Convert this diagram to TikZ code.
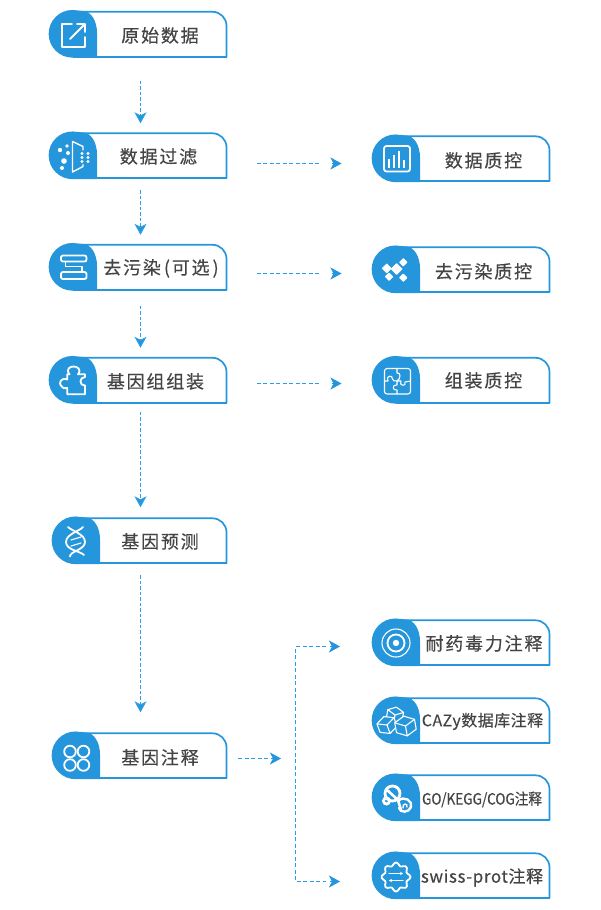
\documentclass[tikz,border=0pt]{standalone}
\usepackage{fontspec}
\setmainfont{Noto Sans CJK SC}
\newfontfamily\cardfont[LetterSpace=10,FakeBold=0.4]{Noto Sans CJK SC}
\newfontfamily\cazyfont[LetterSpace=3,FakeBold=0.4]{Noto Sans CJK SC}
\newfontfamily\gofont[FakeStretch=0.875,FakeBold=0.4]{Noto Sans CJK SC}
\newfontfamily\swissfont[LetterSpace=3.5,FakeBold=0.4]{Noto Sans CJK SC}
\usetikzlibrary{arrows.meta,calc}

\definecolor{cardblue}{HTML}{2596DC}
\definecolor{cardink}{HTML}{444444}
\definecolor{flowblue}{HTML}{2A9FE8}

\tikzset{
  card/.style={anchor=north west,minimum width=177pt,minimum height=45pt,inner sep=0pt,outer sep=0pt},
  cardwide/.style={card,minimum width=174pt},
  cardtext/.style={text=cardink,inner sep=0pt,yshift=-0.4pt,font=\cardfont\fontsize{18}{20}\selectfont},
  cardline/.style={draw=cardblue,line width=1.7pt},
  flowdown/.style={draw=flowblue,line width=1pt,dash pattern=on 3.5pt off 2pt,-{Stealth[length=11pt,width=12pt,inset=3pt,fill=cardblue]}},
  flowside/.style={draw=flowblue,line width=1pt,dash pattern=on 4pt off 2.5pt},
  flowtip/.style={draw=cardblue,line width=0.8pt,-{Stealth[length=11pt,width=12pt,inset=3pt]}},
  iconline/.style={draw=white,line width=1.8pt,line join=round,line cap=round},
  iconthin/.style={draw=white,line width=1.1pt,line join=round,line cap=round},
  iconfill/.style={fill=white},
}

% blue head and outline of one card
\newcommand{\cardframe}[1]{
  \draw[cardline] (#1.south east) -- ([yshift=-14pt]#1.north east) arc[start angle=0,end angle=90,radius=14pt] -- ([xshift=23pt]#1.north west);
  \draw[cardline] (#1.south east) -- ([xshift=23pt]#1.south west);
  \fill[cardblue] ([xshift=23pt,yshift=-0.85pt]#1.south west) arc[start angle=270,end angle=90,radius=23.85pt]
    -- ([xshift=33pt,yshift=0.85pt]#1.north west)
    .. controls ([xshift=42pt,yshift=0.85pt]#1.north west) and ([xshift=47.5pt,yshift=-10pt]#1.north west) .. ([xshift=47.5pt,yshift=-21pt]#1.north west)
    -- ([xshift=47.5pt,yshift=-0.85pt]#1.south west) -- cycle;
}

\begin{document}
\begin{tikzpicture}[x=1pt,y=-1pt]
  \useasboundingbox (0,0) rectangle (600,910);

  % left column
  \node[card] (raw) at (49.5,11.8) {};
  \cardframe{raw}
  \node[cardtext] (rawlabel) at (160,35) {原始数据};

  \node[card] (filter) at (49.5,133.3) {};
  \cardframe{filter}
  \node[cardtext] (filterlabel) at (158.5,156) {数据过滤};

  \node[card] (decon) at (49.5,244.8) {};
  \cardframe{decon}
  \node[cardtext] (deconlabel) at (161,268) {去污染\hspace{3pt}(可选\hspace{3pt})};

  \node[card] (genome) at (49.5,357.8) {};
  \cardframe{genome}
  \node[cardtext] (genomelabel) at (155.5,381) {基因组组装};

  \node[cardwide] (predict) at (52.5,518.3) {};
  \cardframe{predict}
  \node[cardtext] (predictlabel) at (160,541) {基因预测};

  \node[cardwide] (annot) at (52.5,733.3) {};
  \cardframe{annot}
  \node[cardtext] (annotlabel) at (160,757) {基因注释};

  % right column
  \node[card] (qcdata) at (372.5,136.3) {};
  \cardframe{qcdata}
  \node[cardtext] (qcdatalabel) at (483.5,160) {数据质控};

  \node[card] (qcdecon) at (372.5,247.3) {};
  \cardframe{qcdecon}
  \node[cardtext] (qcdeconlabel) at (483.5,271) {去污染质控};

  \node[card] (qcgenome) at (372.5,357.8) {};
  \cardframe{qcgenome}
  \node[cardtext] (qcgenomelabel) at (483.5,380) {组装质控};

  \node[card] (resist) at (372.5,620.3) {};
  \cardframe{resist}
  \node[cardtext] (resistlabel) at (484,643) {耐药毒力注释};

  \node[card] (cazy) at (372.5,698.3) {};
  \cardframe{cazy}
  \node[cardtext,font=\cazyfont\fontsize{16}{18}\selectfont] (cazylabel) at (482.5,721) {CAZy数据库注释};

  \node[card] (go) at (372.5,775.3) {};
  \cardframe{go}
  \node[cardtext,font=\gofont\fontsize{15.5}{17}\selectfont] (golabel) at (482,799) {GO/KEGG/COG注释};

  \node[card] (swiss) at (372.5,853.3) {};
  \cardframe{swiss}
  \node[cardtext,font=\swissfont\fontsize{17}{19}\selectfont] (swisslabel) at (482,877) {swiss-prot注释};

  % downward connectors
  \draw[flowdown,shorten <=24pt,shorten >=10pt] ([xshift=2.5pt]raw.south) -- ([xshift=2.5pt]filter.north);
  \draw[flowdown,shorten <=12pt,shorten >=10pt] ([xshift=2.5pt]filter.south) -- ([xshift=2.5pt]decon.north);
  \draw[flowdown,shorten <=16pt,shorten >=10pt] ([xshift=2.5pt]decon.south) -- ([xshift=2.5pt]genome.north);
  \draw[flowdown,shorten <=9pt,shorten >=11pt] ([xshift=2.5pt]genome.south) -- ([xshift=1pt]predict.north);
  \draw[flowdown,shorten <=12pt,shorten >=21pt] ([xshift=1pt]predict.south) -- ([xshift=1pt]annot.north);

  % sideways connectors
  \draw[flowside,shorten <=30pt,shorten >=52pt] ([yshift=-7.7pt]filter.east) -- ([yshift=-4.7pt]qcdata.west);
  \draw[flowtip] ([xshift=-41pt,yshift=-4.7pt]qcdata.west) -- ([xshift=-31pt,yshift=-4.7pt]qcdata.west);
  \draw[flowside,shorten <=30pt,shorten >=52pt] ([yshift=-6.2pt]decon.east) -- ([yshift=-3.7pt]qcdecon.west);
  \draw[flowtip] ([xshift=-41pt,yshift=-3.7pt]qcdecon.west) -- ([xshift=-31pt,yshift=-3.7pt]qcdecon.west);
  \draw[flowside,shorten <=30pt,shorten >=52pt] ([yshift=-3.2pt]genome.east) -- ([yshift=-3.2pt]qcgenome.west);
  \draw[flowtip] ([xshift=-41pt,yshift=-3.2pt]qcgenome.west) -- ([xshift=-31pt,yshift=-3.2pt]qcgenome.west);

  % branch to the annotation cards
  \coordinate (annotout) at (238,758.5);
  \coordinate (annotend) at (268,758.5);
  \coordinate (branchtop) at (295.5,646.5);
  \coordinate (branchbot) at (295.5,881.5);
  \draw[flowside] (annotout) -- (annotend);
  \draw[flowtip] (271,758.5) -- (281,758.5);
  \draw[flowside] (326,646.5) -- (branchtop) -- (branchbot) -- (326,881.5);
  \draw[flowtip] (330,646.5) -- (340,646.5);
  \draw[flowtip] (330,881.5) -- (340,881.5);

  % icon: raw data
  \draw[iconline] (72,24) -- (62,24) -- (62,47) -- (85,47) -- (85,37);
  \draw[iconline] (70,39) -- (84,25);
  \draw[iconline] (77,24) -- (85,24) -- (85,32);

  % icon: filter
  \draw[iconline,line width=1.4pt] (83,150) -- (83,146.5) -- (72.5,141.5) -- (72.5,172) -- (83,166.5) -- (83,164.5);
  \foreach \dx/\dy/\dr in {60/150/2.2,67/146/1.8,68/153/2,64/161/2.8,62/168/2}
    \fill[iconfill] (\dx,\dy) circle (\dr pt);
  \foreach \dx in {82,88} \foreach \dy in {153.5,157.5,161.5}
    \fill[iconfill] (\dx,\dy) circle (1.6pt);

  % icon: bars
  \draw[iconline,rounded corners=2pt] (61,255.5) rectangle (86.5,261.5);
  \draw[iconline,rounded corners=2pt] (61,272) rectangle (86.5,279);
  \draw[iconline] (65.5,261.5) -- (65.5,266.5) -- (82,266.5) -- (82,272);

  % icon: puzzle piece
  \draw[iconline] (67.3,394.3) -- (85,394.3) -- (85,385.5)
    .. controls (79,386) and (79,377) .. (85,377) -- (85,374.3) -- (78,374.3)
    .. controls (82,369) and (77,366.5) .. (73.5,366.5) .. controls (70,366.5) and (65.5,369) .. (69.5,374.3)
    -- (67.3,374.3) -- (67.3,379.5)
    .. controls (61,377) and (59,383) .. (60.5,385) .. controls (61.5,388) and (64,388.5) .. (67.3,388) -- cycle;

  % icon: dna
  \draw[iconline] (68,527) .. controls (72,531) and (85,534) .. (85,542) .. controls (85,550) and (70,551) .. (70,556.5);
  \draw[iconline] (83,527) .. controls (80,531) and (66,534) .. (66,542) .. controls (66,550) and (80,551) .. (84,555);
  \draw[iconthin] (71,540) -- (81,537);
  \draw[iconthin] (71,546) -- (81,543);

  % icon: four rings
  \foreach \rx in {70,83.5} \foreach \ry in {751.5,765}
    \draw[iconline] (\rx,\ry) circle (5.8pt);

  % icon: chart
  \draw[iconline,rounded corners=2.5pt] (384,146) rectangle (410,171.5);
  \foreach \bx/\by in {389/158.5,394/155,399/151,404/160}
    \draw[iconline,line cap=butt] (\bx,167.5) -- (\bx,\by);

  % icon: diamonds
  \foreach \sx/\sy/\sz in {386.7/268.3/5,396.7/269/6,403.3/262.3/4.3,389/276.7/4.3,403.3/277.7/4.3}
    \fill[iconfill,rounded corners=0.6pt] (\sx-\sz,\sy) -- (\sx,\sy-\sz) -- (\sx+\sz,\sy) -- (\sx,\sy+\sz) -- cycle;

  % icon: four part puzzle
  \draw[iconthin,rounded corners=2.5pt] (384.5,368.5) rectangle (410.5,394);
  \draw[iconthin] (384.5,381) -- (388,381) .. controls (385,376) and (393,374) .. (392.5,379) .. controls (392,381) and (395,381) .. (397,381)
    -- (401,381) .. controls (398,386) and (407,387) .. (405,382) -- (410.5,381);
  \draw[iconthin] (397,368.5) -- (397,373) .. controls (401,372) and (401,379) .. (397,381) -- (397,385) .. controls (392,384) and (392,391) .. (397,390) -- (397,394);

  % icon: target
  \draw[iconthin] (396,643) circle (14pt);
  \draw[iconline] (396,643) circle (8.5pt);
  \fill[iconfill] (396,643) circle (3.2pt);

  % icon: cubes
  \foreach \cx/\cy/\cr/\ca in {395/715/8/-10,387/725/9/20,405.5/726/10/10} {
    \begin{scope}[rotate around={\ca:(\cx,\cy)}]
      \fill[cardblue] (\cx,\cy-\cr) -- (\cx+\cr,\cy-\cr/2) -- (\cx+\cr,\cy+\cr/2) -- (\cx,\cy+\cr) -- (\cx-\cr,\cy+\cr/2) -- (\cx-\cr,\cy-\cr/2) -- cycle;
      \draw[iconthin] (\cx,\cy-\cr) -- (\cx+\cr,\cy-\cr/2) -- (\cx+\cr,\cy+\cr/2) -- (\cx,\cy+\cr) -- (\cx-\cr,\cy+\cr/2) -- (\cx-\cr,\cy-\cr/2) -- cycle;
      \draw[iconthin] (\cx-\cr,\cy-\cr/2) -- (\cx,\cy) -- (\cx+\cr,\cy-\cr/2) (\cx,\cy) -- (\cx,\cy+\cr);
    \end{scope}
  }

  % icon: knot
  \draw[draw=white,line width=2.8pt] (392.5,793.5) circle (7.5pt);
  \draw[draw=white,line width=2.8pt] (386.5,801) circle (3pt);
  \draw[draw=white,line width=2.6pt,line cap=round] (386,789) -- (398,800) -- (401,810);
  \draw[draw=white,line width=2.4pt,line cap=round] (398,801) .. controls (404,795) and (413,801) .. (411,807) .. controls (409,813) and (400,813) .. (399,808);
  \draw[draw=white,line width=1.4pt,line cap=round] (403,808) .. controls (402,803) and (408,803) .. (407,807);

  % icon: gear
  \draw[iconline] plot[domain=0:352,samples=45,smooth cycle] ({396+(13+1.6*cos(8*\x))*cos(\x)},{877+(13+1.6*cos(8*\x))*sin(\x)});
  \draw[iconthin,-{Stealth[length=3pt,width=3.5pt]}] (389,873.5) -- (403,873.5);
  \draw[iconthin,-{Stealth[length=3pt,width=3.5pt]}] (403,880.5) -- (389,880.5);
\end{tikzpicture}
\end{document}
